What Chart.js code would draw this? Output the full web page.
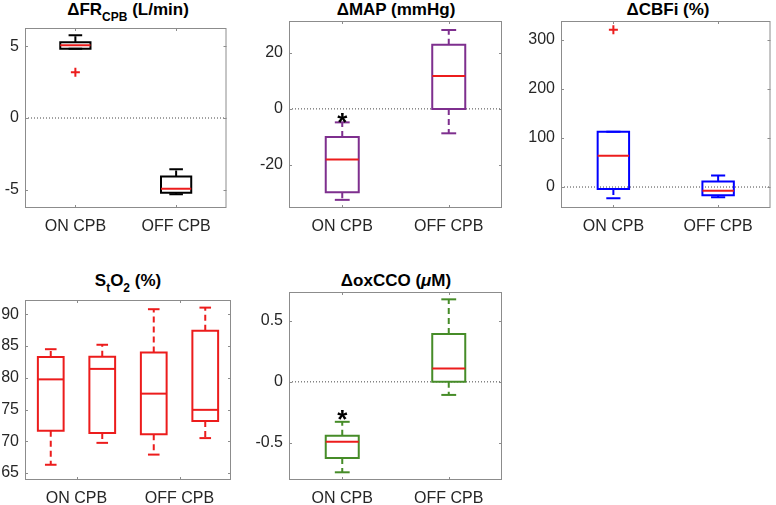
<!DOCTYPE html>
<html>
<head>
<meta charset="utf-8">
<script src="https://cdn.jsdelivr.net/npm/chart.js@4.4.0/dist/chart.umd.min.js"></script>
<style>
  body { margin: 0; background: #fff; width: 776px; height: 505px; overflow: hidden; position: relative; font-family: "Liberation Sans", Arial, sans-serif; }
  canvas { position: absolute; }
  .ttl { position: absolute; font-weight: bold; font-size: 17px; line-height: 17px; color: #000; white-space: nowrap; transform: translateX(-50%); }
  .ttl sub { font-size: 12px; vertical-align: -6px; line-height: 0; }
</style>
</head>
<body>
<div class="ttl" style="left:128px; top:1px">&Delta;FR<sub>CPB</sub> (L/min)</div>
<div class="ttl" style="left:396px; top:1px">&Delta;MAP (mmHg)</div>
<div class="ttl" style="left:668px; top:1px">&Delta;CBFi (%)</div>
<div class="ttl" style="left:128px; top:272px">S<sub>t</sub>O<sub>2</sub> (%)</div>
<div class="ttl" style="left:396px; top:272px">&Delta;oxCCO (<i>&mu;</i>M)</div>

<script>
// categorias
const groupLabels = ['ON CPB', 'OFF CPB'];
const groupPos = [1, 2];

// ΔFR_CPB (L/min)
const frLow = [4.84, -5.32];
const frQ1 = [4.84, -5.22];
const frMed = [5.07, -4.93];
const frQ3 = [5.28, -4.09];
const frHigh = [5.77, -3.58];
const frOut = [[3.19], []];
const frTicks = [-5, 0, 5];

// ΔMAP (mmHg)
const mapLow = [-32.4, -8.7];
const mapQ1 = [-29.7, 0.0];
const mapMed = [-18.0, 11.7];
const mapQ3 = [-10.0, 22.8];
const mapHigh = [-4.8, 28.1];
const mapStar = [-2.6, null];
const mapTicks = [-20, 0, 20];

// ΔCBFi (%)
const cbfLow = [-23, -21];
const cbfQ1 = [-4, -17];
const cbfMed = [63.7, -7.5];
const cbfQ3 = [112.6, 11.4];
const cbfHigh = [112.6, 23.6];
const cbfOut = [[321], []];
const cbfTicks = [0, 100, 200, 300];

// StO2 (%) - cuatro cajas
const stoPos = [1, 2, 3, 4];
const stoLabelPos = [1.5, 3.5];
const stoLow = [66.3, 69.75, 67.9, 70.5];
const stoQ1 = [71.64, 71.3, 71.1, 73.2];
const stoMed = [79.75, 81.4, 77.5, 74.95];
const stoQ3 = [83.27, 83.3, 84.0, 87.4];
const stoHigh = [84.5, 85.2, 90.8, 91.05];
const stoTicks = [65, 70, 75, 80, 85, 90];

// ΔoxCCO (μM)
const oxLow = [-0.74, -0.107];
const oxQ1 = [-0.623, 0.0];
const oxMed = [-0.49, 0.11];
const oxQ3 = [-0.44, 0.392];
const oxHigh = [-0.327, 0.675];
const oxStar = [-0.259, null];
const oxTicks = [-0.5, 0, 0.5];

const RED = '#ec1c1c';
const FONT = '"Liberation Sans", Arial, sans-serif';

function seg(pts, color, dash) {
    return {
        data: pts, showLine: true, borderColor: color, borderWidth: 2,
        borderDash: dash || [], pointRadius: 0, fill: false,
        borderJoinStyle: 'miter', borderCapStyle: 'butt'
    };
}

// arma las cajas con los datos
function boxDatasets(b) {
    const sets = [];
    const w = b.halfW, c = b.halfW * 0.45;
    b.pos.forEach((p, i) => {
        sets.push(seg([{x: p, y: b.q3[i]}, {x: p, y: b.hi[i]}], b.color, [6, 4]));
        sets.push(seg([{x: p, y: b.q1[i]}, {x: p, y: b.lo[i]}], b.color, [6, 4]));
        sets.push(seg([{x: p - c, y: b.hi[i]}, {x: p + c, y: b.hi[i]}], b.color));
        sets.push(seg([{x: p - c, y: b.lo[i]}, {x: p + c, y: b.lo[i]}], b.color));
        const box = seg([{x: p - w, y: b.q1[i]}, {x: p + w, y: b.q1[i]}, {x: p + w, y: b.q3[i]},
                         {x: p - w, y: b.q3[i]}, {x: p - w, y: b.q1[i]}], b.color);
        box.borderCapStyle = 'square';
        sets.push(box);
        sets.push(seg([{x: p - w, y: b.med[i]}, {x: p + w, y: b.med[i]}], b.medColor));
        if (b.out && b.out[i].length) {
            sets.push({
                data: b.out[i].map(v => ({x: p, y: v})), showLine: false,
                pointStyle: 'cross', pointRadius: 4.5, borderColor: RED, borderWidth: 2
            });
        }
    });
    return sets;
}

// marco, marcas de ticks hacia adentro y asteriscos
const framePlugin = {
    id: 'frame',
    afterDraw(chart, args, opts) {
        const {ctx, chartArea: a, scales: {x, y}} = chart;
        ctx.save();
        ctx.strokeStyle = '#8c8c8c';
        ctx.lineWidth = 1;
        ctx.strokeRect(a.left + 0.5, a.top + 0.5, a.width - 1, a.height - 1);
        ctx.beginPath();
        y.ticks.forEach(t => {
            const py = Math.round(y.getPixelForValue(t.value)) + 0.5;
            ctx.moveTo(a.left, py); ctx.lineTo(a.left + 3, py);
            ctx.moveTo(a.right - 3, py); ctx.lineTo(a.right, py);
        });
        x.ticks.forEach(t => {
            const px = Math.round(x.getPixelForValue(t.value)) + 0.5;
            ctx.moveTo(px, a.bottom); ctx.lineTo(px, a.bottom - 3);
            ctx.moveTo(px, a.top); ctx.lineTo(px, a.top + 3);
        });
        ctx.stroke();
        (opts.stars || []).forEach(s => {
            ctx.fillStyle = '#000';
            ctx.font = 'bold 26px ' + FONT;
            ctx.textAlign = 'center';
            ctx.textBaseline = 'alphabetic';
            ctx.fillText('*', x.getPixelForValue(s.x), y.getPixelForValue(s.y) + 0.57 * 26);
        });
        ctx.restore();
    }
};

const panels = [
    { L: 25, T: 28, R: 231, B: 208, yMin: -6.28, yMax: 6.28, yTicks: frTicks, zero: true,
      xMin: 0.5, xMax: 2.5, xTicks: groupPos, xLabels: groupLabels,
      box: { pos: groupPos, lo: frLow, q1: frQ1, med: frMed, q3: frQ3, hi: frHigh, out: frOut,
             color: '#000000', medColor: RED, halfW: 0.15 } },
    { L: 289, T: 21, R: 502, B: 208, yMin: -35.3, yMax: 31.3, yTicks: mapTicks, zero: true,
      xMin: 0.5, xMax: 2.5, xTicks: groupPos, xLabels: groupLabels, star: mapStar,
      box: { pos: groupPos, lo: mapLow, q1: mapQ1, med: mapMed, q3: mapQ3, hi: mapHigh,
             color: '#7e2f8e', medColor: RED, halfW: 0.155 } },
    { L: 561, T: 21, R: 775, B: 208, yMin: -42.8, yMax: 338.7, yTicks: cbfTicks, zero: true,
      xMin: 0.5, xMax: 2.5, xTicks: groupPos, xLabels: groupLabels,
      box: { pos: groupPos, lo: cbfLow, q1: cbfQ1, med: cbfMed, q3: cbfQ3, hi: cbfHigh, out: cbfOut,
             color: '#0000ff', medColor: RED, halfW: 0.15 } },
    { L: 25, T: 300, R: 231, B: 480, yMin: 63.9, yMax: 92.25, yTicks: stoTicks, zero: false,
      xMin: 0.5, xMax: 4.5, xTicks: stoLabelPos, xLabels: groupLabels,
      box: { pos: stoPos, lo: stoLow, q1: stoQ1, med: stoMed, q3: stoQ3, hi: stoHigh,
             color: RED, medColor: RED, halfW: 0.25 } },
    { L: 289, T: 292, R: 502, B: 480, yMin: -0.803, yMax: 0.735, yTicks: oxTicks, zero: true,
      xMin: 0.5, xMax: 2.5, xTicks: groupPos, xLabels: groupLabels, star: oxStar,
      box: { pos: groupPos, lo: oxLow, q1: oxQ1, med: oxMed, q3: oxQ3, hi: oxHigh,
             color: '#468c28', medColor: RED, halfW: 0.155 } }
];

const YW = 50, XH = 30, PT = 20, PR = 2;

panels.forEach(p => {
    const cv = document.createElement('canvas');
    cv.width = (p.R - p.L) + YW + PR;
    cv.height = (p.B - p.T) + PT + XH;
    cv.style.left = (p.L - YW) + 'px';
    cv.style.top = (p.T - PT) + 'px';
    document.body.appendChild(cv);

    // orden: lo primero del arreglo se dibuja arriba
    let sets = boxDatasets(p.box);
    if (p.zero) {
        sets.unshift({ data: [{x: p.xMin, y: 0}, {x: p.xMax, y: 0}], showLine: true, pointRadius: 0,
                       borderColor: '#444', borderWidth: 1, borderDash: [1, 2] });
    }
    sets = sets.reverse();

    const stars = [];
    if (p.star) p.star.forEach((v, i) => { if (v !== null) stars.push({x: p.box.pos[i], y: v}); });

    new Chart(cv.getContext('2d'), {
        type: 'scatter',
        data: { datasets: sets },
        plugins: [framePlugin],
        options: {
            responsive: false,
            animation: false,
            events: [],
            layout: { padding: { top: PT, right: PR, bottom: 0, left: 0 } },
            plugins: { legend: { display: false }, tooltip: { enabled: false }, frame: { stars: stars } },
            scales: {
                x: {
                    type: 'linear', min: p.xMin, max: p.xMax,
                    grid: { display: false, drawTicks: false }, border: { display: false },
                    afterBuildTicks: s => { s.ticks = p.xTicks.map(v => ({ value: v })); },
                    afterFit: s => { s.height = XH; },
                    ticks: { font: { family: FONT, size: 16 }, color: '#262626', padding: 9,
                             maxRotation: 0, autoSkip: false, callback: (v, i) => p.xLabels[i] }
                },
                y: {
                    type: 'linear', min: p.yMin, max: p.yMax,
                    grid: { display: false, drawTicks: false }, border: { display: false },
                    afterBuildTicks: s => { s.ticks = p.yTicks.map(v => ({ value: v })); },
                    afterFit: s => { s.width = YW; },
                    ticks: { font: { family: FONT, size: 16 }, color: '#262626', padding: 6,
                             autoSkip: false, callback: v => String(v) }
                }
            }
        }
    });
});
</script>
</body>
</html>
